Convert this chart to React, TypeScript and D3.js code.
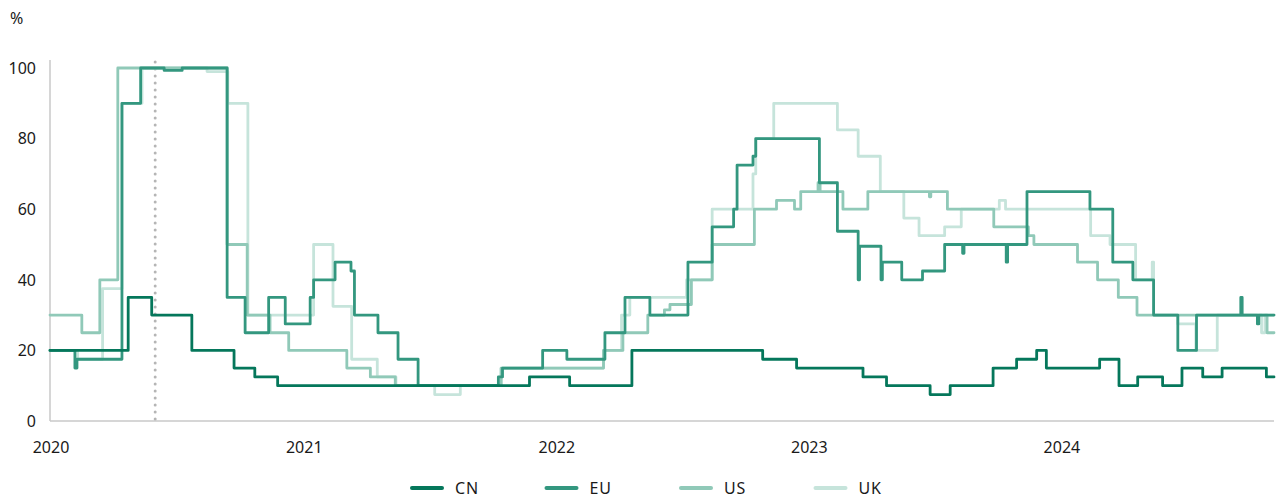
import React from "react";
import * as d3 from "d3";

const W = 1276;
const H = 498;

const yTicks = [0, 20, 40, 60, 80, 100];
const xTickDates = ["2020-01-01", "2021-01-01", "2022-01-01", "2023-01-01", "2024-01-01"];
const xTickLabels = ["2020", "2021", "2022", "2023", "2024"];
const seriesNames = ["CN", "EU", "US", "UK"];
const seriesColors = ["#05775b", "#33977f", "#90c9b8", "#c6e4db"];
const markerDate = "2020-06-01";
const dateDomain = ["2020-01-01", "2024-11-04"];

type Pt = [string, number];

const cnData: Pt[] = [
  ["2020-01-01", 20], ["2020-04-23", 35], ["2020-05-27", 30], ["2020-07-24", 20],
  ["2020-09-23", 15], ["2020-10-23", 12.5], ["2020-11-25", 10], ["2021-11-24", 12.5],
  ["2022-01-21", 10], ["2022-04-21", 20], ["2022-10-27", 17.5], ["2022-12-15", 15],
  ["2023-03-21", 12.5], ["2023-04-24", 10], ["2023-06-26", 7.5], ["2023-07-25", 10],
  ["2023-09-25", 15], ["2023-10-29", 17.5], ["2023-11-27", 20], ["2023-12-11", 15],
  ["2024-02-26", 17.5], ["2024-03-25", 10], ["2024-04-21", 12.5], ["2024-05-27", 10],
  ["2024-06-24", 15], ["2024-07-24", 12.5], ["2024-08-21", 15], ["2024-10-24", 12.5],
  ["2024-11-04", 12.5],
];

const euData: Pt[] = [
  ["2020-01-01", 20], ["2020-02-06", 15], ["2020-02-09", 17.5], ["2020-04-14", 90],
  ["2020-05-11", 100], ["2020-06-14", 99.3], ["2020-07-10", 100], ["2020-09-13", 35],
  ["2020-10-09", 25], ["2020-11-12", 35], ["2020-12-06", 27.5], ["2021-01-11", 35],
  ["2021-01-16", 40], ["2021-02-16", 45], ["2021-03-11", 42.5], ["2021-03-16", 30],
  ["2021-04-19", 25], ["2021-05-18", 17.5], ["2021-06-16", 10], ["2021-10-10", 12.5],
  ["2021-10-16", 15], ["2021-12-13", 20], ["2022-01-17", 17.5], ["2022-03-13", 25],
  ["2022-04-11", 35], ["2022-05-17", 30], ["2022-07-11", 45], ["2022-08-15", 55],
  ["2022-09-15", 60], ["2022-09-20", 72.5], ["2022-10-13", 75], ["2022-10-17", 80],
  ["2023-01-17", 67.5], ["2023-02-12", 53.75], ["2023-03-14", 40], ["2023-03-16", 49.5],
  ["2023-04-16", 40], ["2023-04-18", 45], ["2023-05-16", 40], ["2023-06-15", 42.5],
  ["2023-07-17", 50], ["2023-08-12", 47.5], ["2023-08-14", 50], ["2023-10-14", 45],
  ["2023-10-16", 50], ["2023-11-13", 65], ["2024-02-12", 60], ["2024-03-16", 45],
  ["2024-04-14", 40], ["2024-05-14", 30], ["2024-06-18", 20], ["2024-07-15", 30],
  ["2024-09-17", 35], ["2024-09-19", 30], ["2024-10-11", 27.5], ["2024-10-13", 30],
  ["2024-11-04", 30],
];

const usData: Pt[] = [
  ["2020-01-01", 30], ["2020-02-16", 25], ["2020-03-13", 40], ["2020-04-08", 100],
  ["2020-09-13", 50], ["2020-10-12", 30], ["2020-11-14", 25], ["2020-12-11", 20],
  ["2021-03-05", 15], ["2021-04-08", 12.5], ["2021-05-14", 10], ["2021-10-14", 15],
  ["2022-03-11", 20], ["2022-04-08", 25], ["2022-05-14", 30], ["2022-06-07", 31.5],
  ["2022-06-15", 33], ["2022-07-16", 40], ["2022-08-15", 50], ["2022-10-15", 60],
  ["2022-11-16", 62.5], ["2022-12-12", 60], ["2022-12-21", 65], ["2023-01-15", 67.5],
  ["2023-01-18", 65], ["2023-02-20", 60], ["2023-03-28", 65], ["2023-06-25", 63.5],
  ["2023-06-27", 65], ["2023-07-21", 60], ["2023-09-26", 55], ["2023-11-15", 52.5],
  ["2023-11-23", 50], ["2024-01-25", 45], ["2024-02-23", 40], ["2024-03-24", 35],
  ["2024-04-20", 30], ["2024-10-25", 25], ["2024-11-04", 25],
];

const ukData: Pt[] = [
  ["2020-01-01", 20], ["2020-02-10", 17.5], ["2020-03-17", 37.5], ["2020-04-14", 90],
  ["2020-05-13", 100], ["2020-08-15", 99], ["2020-09-14", 90], ["2020-10-13", 30],
  ["2021-01-16", 50], ["2021-02-13", 32.5], ["2021-03-12", 17.5], ["2021-04-18", 12.5],
  ["2021-05-15", 10], ["2021-07-10", 7.5], ["2021-08-16", 10], ["2021-10-14", 15],
  ["2022-03-11", 20], ["2022-04-06", 30], ["2022-04-18", 35], ["2022-07-09", 40],
  ["2022-08-15", 60], ["2022-10-13", 70], ["2022-10-17", 80], ["2022-11-12", 90],
  ["2023-02-12", 82.5], ["2023-03-14", 75], ["2023-04-15", 65], ["2023-05-19", 57.5],
  ["2023-06-10", 52.5], ["2023-07-17", 55], ["2023-08-10", 60], ["2023-10-04", 62.5],
  ["2023-10-13", 60], ["2024-02-13", 52.5], ["2024-03-12", 50], ["2024-04-18", 40],
  ["2024-05-12", 45], ["2024-05-14", 30], ["2024-06-18", 27.5], ["2024-07-14", 20],
  ["2024-08-14", 30], ["2024-10-17", 25], ["2024-10-22", 30], ["2024-11-04", 30],
];

const seriesData = [cnData, euData, usData, ukData];

const parse = d3.timeParse("%Y-%m-%d");
const FONT = "'Noto Sans', 'Open Sans', sans-serif";

export default function App() {
  const left = 50, right = 1274, top = 68, bottom = 421;
  const x = d3.scaleTime()
    .domain(dateDomain.map((s) => parse(s) as Date))
    .range([left, right]);
  const y = d3.scaleLinear().domain([0, 100]).range([bottom, top]);

  const line = d3.line<Pt>()
    .x((d) => x(parse(d[0]) as Date))
    .y((d) => y(d[1]))
    .curve(d3.curveStepAfter);

  const drawOrder = [3, 2, 1, 0];
  const mx = x(parse(markerDate) as Date);
  const legendX0 = 412;
  const legendStep = 134.5;
  const legendY = 488;

  return (
    <svg width={W} height={H} style={{ position: "absolute", left: 0, top: 0, background: "#fff" }}
      fontFamily={FONT}>
      <text x={10} y={24} fontSize={16} fill="#1a1a1a">%</text>

      <line x1={left} x2={left} y1={60} y2={bottom} stroke="#c8c8c8" strokeWidth={1.5} />
      <line x1={left} x2={right} y1={bottom} y2={bottom} stroke="#c8c8c8" strokeWidth={1.5} />

      {yTicks.map((t) => (
        <text key={t} x={36} y={y(t)} dy="0.36em" textAnchor="end" fontSize={16} fill="#1a1a1a">
          {t}
        </text>
      ))}
      {xTickDates.map((s, i) => (
        <text key={s} x={x(parse(s) as Date) + 1} y={453} textAnchor="middle" fontSize={16} fill="#1a1a1a">
          {xTickLabels[i]}
        </text>
      ))}

      <line x1={mx} x2={mx} y1={62} y2={bottom} stroke="#b5b5b5" strokeWidth={3}
        strokeDasharray="0 7" strokeLinecap="round" />

      {drawOrder.map((i) => (
        <path key={seriesNames[i]} d={line(seriesData[i]) || ""} fill="none"
          stroke={seriesColors[i]} strokeWidth={2.8} strokeLinejoin="round" strokeLinecap="round" />
      ))}

      {seriesNames.map((n, i) => {
        const lx = legendX0 + i * legendStep;
        return (
          <g key={n}>
            <line x1={lx} x2={lx + 30} y1={legendY} y2={legendY} stroke={seriesColors[i]}
              strokeWidth={4} strokeLinecap="round" />
            <text x={lx + 43} y={legendY} dy="0.36em" fontSize={16} fill="#1a1a1a" letterSpacing={0.8}>
              {n}
            </text>
          </g>
        );
      })}
    </svg>
  );
}
